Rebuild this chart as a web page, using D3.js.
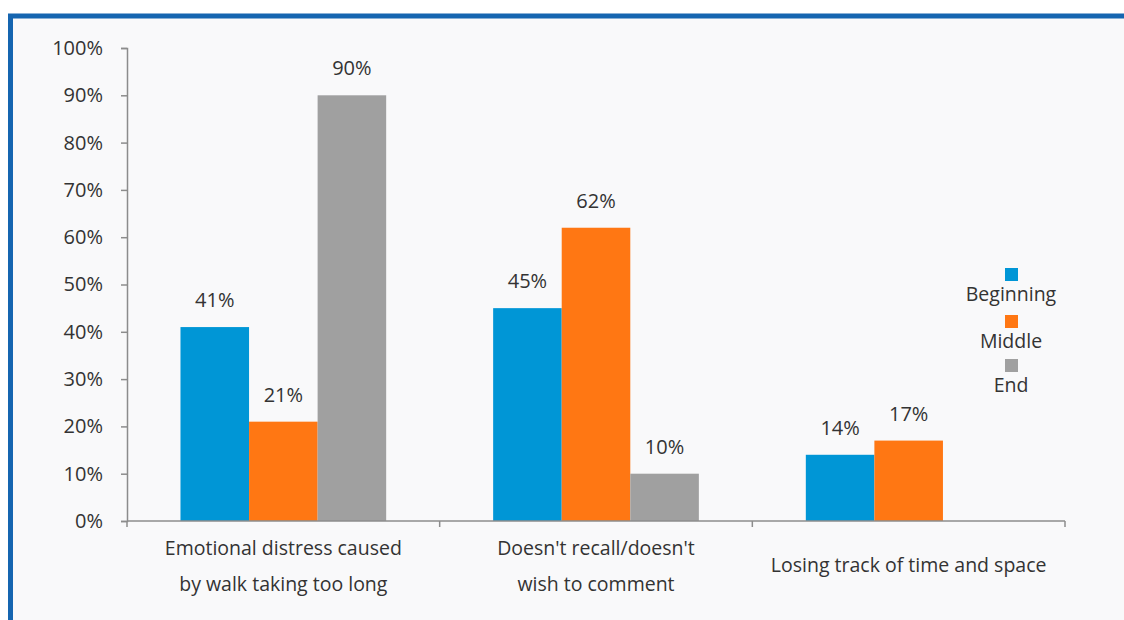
<!DOCTYPE html>
<html>
<head>
<meta charset="utf-8">
<script src="https://cdn.jsdelivr.net/npm/d3@7"></script>
<style>
  body { margin: 0; background: #ffffff; }
  text { font-family: "Open Sans", "DejaVu Sans", sans-serif; fill: #333333; }
</style>
</head>
<body>
<div id="chart"></div>
<script>
var width = 1124;
var height = 620;

// data
var categories = [
  ["Emotional distress caused", "by walk taking too long"],
  ["Doesn't recall/doesn't", "wish to comment"],
  ["Losing track of time and space"]
];
var seriesNames = ["Beginning", "Middle", "End"];
var beginning = [41, 45, 14];
var middle    = [21, 62, 17];
var end       = [90, 10, null];
var yTicks = [0, 10, 20, 30, 40, 50, 60, 70, 80, 90, 100];
var colors = ["#0096d6", "#ff7713", "#a0a0a0"];

var series = [beginning, middle, end];

var svg = d3.select("#chart").append("svg")
  .attr("width", width)
  .attr("height", height);

// panel with the blue frame
svg.append("rect")
  .attr("x", 10.5).attr("y", 16)
  .attr("width", width + 20).attr("height", height + 20)
  .style("fill", "#f9f9fa")
  .style("stroke", "#1565b0")
  .style("stroke-width", 5);

var plotLeft = 127, plotRight = 1065, plotTop = 48, plotBottom = 521;

var x0 = d3.scaleBand()
  .domain(d3.range(categories.length))
  .range([plotLeft, plotRight])
  .paddingInner(0).paddingOuter(0);

var x1 = d3.scaleBand()
  .domain(d3.range(seriesNames.length))
  .range([0, x0.bandwidth()])
  .paddingOuter(0.78).paddingInner(0);

var y = d3.scaleLinear().domain([0, 100]).range([plotBottom, plotTop]);

// y axis
var yAxis = svg.append("g")
  .attr("transform", "translate(" + plotLeft + ",0)")
  .call(d3.axisLeft(y).tickValues(yTicks).tickSize(6).tickPadding(18)
    .tickFormat(function(d){ return d + "%"; }));
yAxis.select(".domain").style("stroke", "#8c8c8c").style("stroke-width", 1.5);
yAxis.selectAll(".tick line").style("stroke", "#8c8c8c").style("stroke-width", 1.5);
yAxis.selectAll(".tick text")
  .style("font-size", "20px")
  .style("fill", "#333")
  .style("font-family", "'Open Sans', sans-serif");

// bars
categories.forEach(function(c, i){
  series.forEach(function(s, j){
    var v = s[i];
    if (v == null) return;
    var bx = x0(i) + x1(j);
    svg.append("rect")
      .attr("x", bx)
      .attr("y", y(v))
      .attr("width", x1.bandwidth())
      .attr("height", y(0) - y(v))
      .style("fill", colors[j]);
    svg.append("text")
      .attr("x", bx + x1.bandwidth() / 2)
      .attr("y", y(v) - 20)
      .attr("text-anchor", "middle")
      .style("font-size", "20px")
      .text(v + "%");
  });
});

// x axis
var xAxis = svg.append("g")
  .attr("transform", "translate(0," + plotBottom + ")");
xAxis.append("line")
  .attr("x1", plotLeft).attr("x2", plotRight)
  .style("stroke", "#8c8c8c").style("stroke-width", 1.5);
d3.range(categories.length + 1).forEach(function(i){
  var tx = i < categories.length ? x0(i) : plotRight;
  xAxis.append("line")
    .attr("x1", tx).attr("x2", tx).attr("y1", 0).attr("y2", 6)
    .style("stroke", "#8c8c8c").style("stroke-width", 1.5);
});

categories.forEach(function(lines, i){
  var cx = x0(i) + x0.bandwidth() / 2;
  var y0 = lines.length === 1 ? 572 : 555;
  lines.forEach(function(l, k){
    svg.append("text")
      .attr("x", cx)
      .attr("y", y0 + k * 36)
      .attr("text-anchor", "middle")
      .style("font-size", "19.5px")
      .text(l);
  });
});

// legend
var legendY = [268, 315, 359];
seriesNames.forEach(function(n, j){
  svg.append("rect")
    .attr("x", 1005).attr("y", legendY[j])
    .attr("width", 13).attr("height", 13)
    .style("fill", colors[j]);
  svg.append("text")
    .attr("x", 1011).attr("y", legendY[j] + 33)
    .attr("text-anchor", "middle")
    .style("font-size", "19.5px")
    .text(n);
});
</script>
</body>
</html>
